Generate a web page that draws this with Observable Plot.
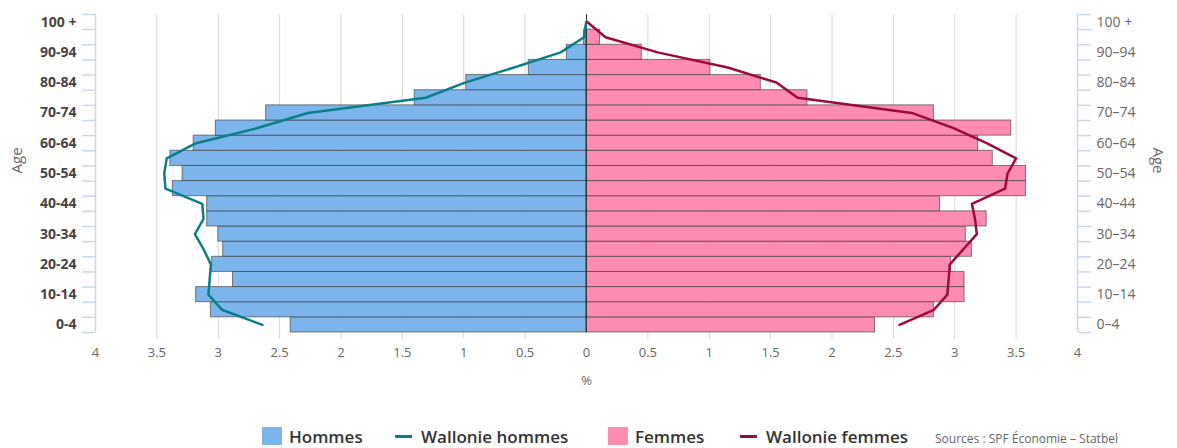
<!DOCTYPE html>
<html>
<head>
<meta charset="utf-8">
<script src="https://cdn.jsdelivr.net/npm/d3@7"></script>
<script src="https://cdn.jsdelivr.net/npm/@observablehq/plot@0.6"></script>
<style>
  html, body { margin: 0; padding: 0; background: #fff; width: 1177px; height: 448px; overflow: hidden; }
  body { font-family: "Open Sans", sans-serif; position: relative; }
  #legend { position: absolute; left: 0; top: 426px; width: 1177px; height: 22px; }
  .item { position: absolute; top: 0; display: flex; align-items: center; height: 20px; font-size: 17px; font-weight: 600; color: #333; white-space: nowrap; }
  .sw { display: inline-block; width: 20px; height: 18px; margin-right: 7px; }
  .ln { display: inline-block; width: 17px; height: 3px; margin-right: 9px; }
  #caption { position: absolute; left: 935px; top: 430px; font-size: 12px; color: #666; white-space: nowrap; }
</style>
</head>
<body>
<div id="chart"></div>
<div id="legend"></div>
<div id="caption">Sources : SPF Économie – Statbel</div>
<script>
// Age groups (bottom to top)
const ages = ["0-4","5-9","10-14","15-19","20-24","25-29","30-34","35-39","40-44","45-49","50-54","55-59","60-64","65-69","70-74","75-79","80-84","85-89","90-94","95-99","100 +"];
const leftLabels  = ["0-4","","10-14","","20-24","","30-34","","40-44","","50-54","","60-64","","70-74","","80-84","","90-94","","100 +"];
const rightLabels = ["0–4","","10–14","","20–24","","30–34","","40–44","","50–54","","60–64","","70–74","","80–84","","90–94","","100 +"];

// Percent of population
const hommes = [2.41, 3.06, 3.18, 2.88, 3.05, 2.96, 3.00, 3.09, 3.09, 3.37, 3.29, 3.39, 3.20, 3.02, 2.61, 1.40, 0.98, 0.47, 0.16, 0.02, 0.0];
const femmes = [2.35, 2.83, 3.08, 3.08, 2.97, 3.14, 3.09, 3.26, 2.88, 3.58, 3.58, 3.31, 3.19, 3.46, 2.83, 1.80, 1.42, 1.01, 0.45, 0.11, 0.0];
const walHommes = [2.64, 2.97, 3.08, 3.07, 3.06, 3.12, 3.19, 3.12, 3.13, 3.43, 3.44, 3.42, 3.18, 2.68, 2.27, 1.31, 0.99, 0.59, 0.21, 0.02, 0.003];
const walFemmes = [2.55, 2.83, 2.94, 2.95, 2.96, 3.07, 3.18, 3.165, 3.14, 3.41, 3.43, 3.50, 3.26, 2.99, 2.65, 1.72, 1.55, 1.15, 0.58, 0.155, 0.006];

const xTicks = [-4,-3.5,-3,-2.5,-2,-1.5,-1,-0.5,0,0.5,1,1.5,2,2.5,3,3.5,4];
const gridTicks = [-3.5,-3,-2.5,-2,-1.5,-1,-0.5,0.5,1,1.5,2,2.5,3,3.5];

const series = [
  {name: "Hommes", type: "bar", color: "#7cb5ec"},
  {name: "Wallonie hommes", type: "line", color: "#0b7f89"},
  {name: "Femmes", type: "bar", color: "#fe8bb0"},
  {name: "Wallonie femmes", type: "line", color: "#9c0a3b"}
];
const legendX = [262, 395, 608, 740];

const rows = ages.map((a, i) => ({age: a, i, h: hommes[i], f: femmes[i], wh: walHommes[i], wf: walFemmes[i]}));
const boundaries = d3.range(-0.5, 21, 1);
const labelIdx = d3.range(0, 21, 2);

const chart = Plot.plot({
  width: 1177,
  height: 410,
  marginLeft: 95,
  marginRight: 100,
  marginTop: 14,
  marginBottom: 78,
  style: {fontFamily: "'Open Sans', sans-serif", fontSize: "13px", background: "#fff"},
  x: {domain: [-4, 4]},
  y: {domain: [-0.5, 20.5]},
  marks: [
    Plot.gridX(gridTicks, {stroke: "#d6d6d6", strokeOpacity: 1}),
    Plot.axisX(gridTicks, {anchor: "bottom", tickSize: 7, tickFormat: () => "", stroke: "#d6d6d6", label: null}),
    Plot.rect(rows, {x1: d => -d.h, x2: 0, y1: d => d.i - 0.5, y2: d => d.i + 0.5, fill: series[0].color, stroke: "#333", strokeOpacity: 0.6, strokeWidth: 1}),
    Plot.rect(rows, {x1: 0, x2: d => d.f, y1: d => d.i - 0.5, y2: d => d.i + 0.5, fill: series[2].color, stroke: "#333", strokeOpacity: 0.6, strokeWidth: 1}),
    Plot.ruleX([0], {stroke: "#333", strokeWidth: 1}),
    Plot.line(rows, {x: d => -d.wh, y: "i", stroke: series[1].color, strokeWidth: 2.5}),
    Plot.line(rows, {x: "wf", y: "i", stroke: series[3].color, strokeWidth: 2.5}),
    Plot.ruleX([-4, 4], {stroke: "#ccd6eb", strokeWidth: 1.5}),
    Plot.axisY(boundaries, {anchor: "left", tickSize: 13, tickFormat: () => "", stroke: "#ccd6eb", strokeWidth: 1.5, label: null}),
    Plot.axisY(boundaries, {anchor: "right", tickSize: 13, tickFormat: () => "", stroke: "#ccd6eb", strokeWidth: 1.5, label: null}),
    Plot.axisY(labelIdx, {anchor: "left", tickSize: 0, tickPadding: 19, tickFormat: i => leftLabels[i], fontWeight: "bold", fontSize: 14, fill: "#4a4340", label: null}),
    Plot.axisY(labelIdx, {anchor: "right", tickSize: 0, tickPadding: 19, tickFormat: i => rightLabels[i], fontSize: 14, fill: "#666", label: null}),
    Plot.axisX(xTicks, {anchor: "bottom", tickSize: 0, tickPadding: 15, tickFormat: d => String(Math.abs(d)), fill: "#666", fontSize: 13, label: null}),
    Plot.text(["%"], {frameAnchor: "bottom", dy: 52, fill: "#666", fontSize: 13}),
    Plot.text(["Age"], {frameAnchor: "left", dx: -78, rotate: -90, fill: "#666", fontSize: 15}),
    Plot.text(["Age"], {frameAnchor: "right", dx: 80, rotate: 90, fill: "#666", fontSize: 15})
  ]
});
document.getElementById("chart").appendChild(chart);

const legend = document.getElementById("legend");
series.forEach((s, k) => {
  const it = document.createElement("div");
  it.className = "item";
  it.style.left = legendX[k] + "px";
  const m = document.createElement("span");
  m.className = s.type === "bar" ? "sw" : "ln";
  m.style.background = s.color;
  it.appendChild(m);
  it.appendChild(document.createTextNode(s.name));
  legend.appendChild(it);
});
</script>
</body>
</html>
